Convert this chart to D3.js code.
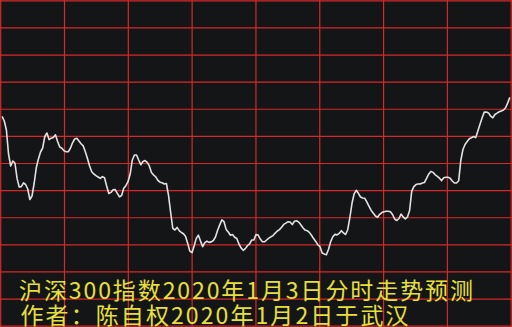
<!DOCTYPE html>
<html>
<head>
<meta charset="utf-8">
<script src="https://cdn.jsdelivr.net/npm/d3@7"></script>
<style>
html,body{margin:0;padding:0;background:#141517;}
svg{display:block;}
</style>
</head>
<body>
<svg id="chart" width="512" height="327"></svg>
<script>
// CSI 300 intraday forecast, one value per trading minute (minute 1..239)
const prices = [
4154.85,4152.5,4148,4136,4130,4132.5,4131.5,4123.8,4119.5,4119.7,
4121.6,4120.75,4118.5,4113.25,4115,4121.25,4129.1,4133.5,4137,4139,
4144.75,4146.5,4143.2,4143.9,4144.25,4145.6,4142.25,4139.5,4138.9,4137.65,
4137.15,4137.15,4138.85,4141.6,4143.5,4143.85,4142.5,4141.15,4140.05,4137.15,
4133.75,4130,4127.15,4126,4125.2,4124.5,4123.8,4124.7,4124.1,4120,
4116.25,4116.8,4118.15,4118.2,4116.35,4114.55,4115.25,4118.85,4120.15,4122.15,
4125.85,4132.9,4135.5,4135.5,4133,4130.65,4132.25,4132.7,4131.8,4130.05,
4126.75,4125.5,4124.6,4122.85,4121.9,4121.65,4121,4121.25,4115.35,4106.75,
4098.85,4098,4099.3,4097.7,4096.75,4096.1,4094.75,4091.3,4087.4,4086.65,
4090,4093.8,4095.4,4092.45,4089.7,4091.7,4092.35,4091.8,4092.05,4092.75,
4094.5,4097.85,4100.55,4103.05,4102.15,4098.3,4097,4095.35,4095.75,4094.4,
4093.75,4091,4089.05,4087.85,4088.7,4090.15,4091.05,4093,4093,4095.7,
4095.5,4093.45,4092.15,4092.1,4093,4093.9,4094.6,4095.2,4096.45,4097.5,
4098.2,4099.4,4100.8,4101.45,4102.15,4102,4100.7,4102.35,4102.65,4101.95,
4100.6,4099.1,4097.95,4097.65,4096.8,4095.35,4093.7,4092.3,4090.55,4089.65,
4086.5,4086,4085.6,4088.4,4092.2,4094.6,4095.8,4095.55,4096.3,4097.65,
4096.55,4095.75,4098.15,4104.25,4111.35,4116.1,4117.85,4116.35,4114.5,4114,
4113.85,4111.9,4109.8,4107.8,4106.4,4105,4104.35,4105.85,4106.7,4107.15,
4107.35,4107.35,4107.1,4105.75,4103.5,4102.75,4103.75,4105.95,4104.55,4103.6,
4104.5,4107.75,4117.4,4119.7,4120.7,4121,4121.05,4121.45,4121.8,4123.95,
4126.05,4127.3,4126.8,4125.6,4124.85,4123.9,4122.7,4124.1,4124.35,4124.35,
4123.9,4122.5,4121.5,4121.5,4122.6,4132.75,4138.25,4140.75,4142.3,4143.65,
4144.15,4144.75,4144.2,4147.55,4150.85,4154.15,4156.95,4157,4156.55,4154.9,
4154.1,4155.75,4156.45,4157.1,4157.55,4158,4159.1,4161.55,4164.3
];
const minutes = prices.map((_, i) => i + 1);
const gridCols = d3.range(0, 9);   // 8 half-hour columns
const gridRows = d3.range(0, 13);  // 12 rows
const titleLines = [
  "沪深300指数2020年1月3日分时走势预测",
  "作者：陈自权2020年1月2日于武汉"
];

const W = 512, H = 327;
const svg = d3.select("#chart");

svg.append("rect").attr("width", W).attr("height", H).attr("fill", "#141517");

const x = d3.scaleLinear().domain([0, 240]).range([0, 512]);
const y = d3.scaleLinear().domain([4050, 4213]).range([326, 0]);
const gx = d3.scaleLinear().domain([0, 8]).range([0.7, 511.2]);
const gy = d3.scaleLinear().domain([0, 12]).range([0.8, 326.2]);

const grid = svg.append("g").attr("stroke", "#d42a2a").attr("stroke-width", 1.2);
grid.selectAll("line.v").data(gridCols).join("line").attr("class", "v")
  .attr("x1", d => gx(d)).attr("x2", d => gx(d)).attr("y1", 0).attr("y2", H);
grid.selectAll("line.h").data(gridRows).join("line").attr("class", "h")
  .attr("x1", 0).attr("x2", W).attr("y1", d => gy(d)).attr("y2", d => gy(d));

const line = d3.line().x((d, i) => x(minutes[i])).y(d => y(d));
svg.append("path").datum(prices)
  .attr("d", line)
  .attr("fill", "none")
  .attr("stroke", "#e2e2e2")
  .attr("stroke-width", 1.6)
  .attr("stroke-linejoin", "round");

const tx = [19, 20.5], ty = [298.5, 323.5], tl = [454, 388];
svg.selectAll("text.title").data(titleLines).join("text").attr("class", "title")
  .attr("x", (d, i) => tx[i]).attr("y", (d, i) => ty[i])
  .attr("textLength", (d, i) => tl[i]).attr("lengthAdjust", "spacing")
  .attr("font-family", "'Noto Sans CJK SC', sans-serif")
  .attr("font-size", 23)
  .attr("fill", "#e8e03a")
  .text(d => d);
</script>
</body>
</html>
